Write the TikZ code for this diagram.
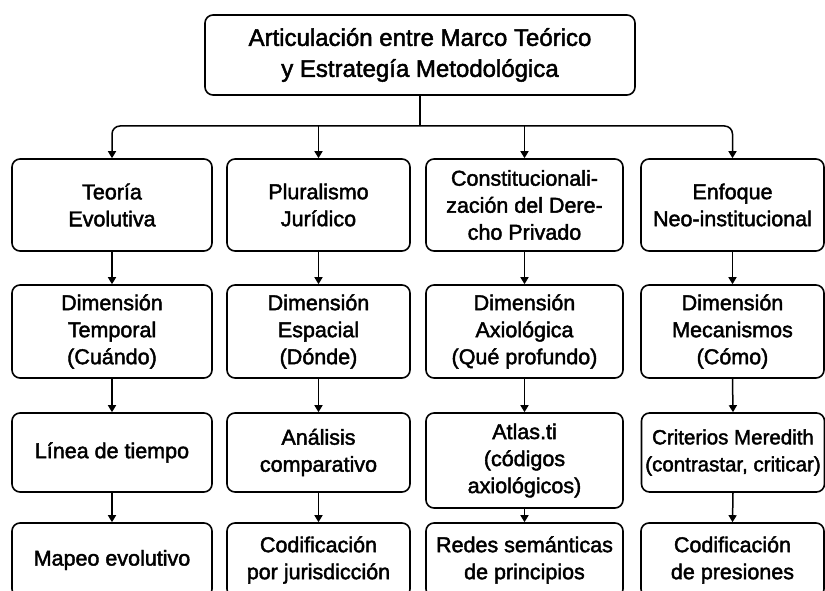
\documentclass[tikz,border=0pt]{standalone}
\usepackage{fontspec}
\setmainfont{Liberation Sans}[FakeBold=2]
\usetikzlibrary{arrows.meta}
\begin{document}
\begin{tikzpicture}[x=1pt,y=-1pt,
  box/.style={draw, line width=1.6pt, rounded corners=8pt, align=center,
    font=\fontsize{21.5}{27}\selectfont, inner sep=0pt},
  link/.style={line width=1.5pt, -{Triangle[length=7pt,width=8pt]}}]
\useasboundingbox (0,0) rectangle (825,591);
\clip (0,0) rectangle (825,591);
\fill[white] (0,0) rectangle (825,591);

% top
\node[box, minimum width=430pt, minimum height=80pt, font=\fontsize{24}{31}\selectfont] (top) at (420,55)
  {Articulación entre Marco Teórico\\y Estrategía Metodológica};

% row 1
\node[box, minimum width=200pt, minimum height=92pt] (t1) at (112,205) {Teoría\\Evolutiva};
\node[box, minimum width=183pt, minimum height=92pt] (t2) at (318.5,205) {Pluralismo\\Jurídico};
\node[box, minimum width=197pt, minimum height=92pt] (t3) at (524.5,205) {Constitucionali-\\zación del Dere-\\cho Privado};
\node[box, minimum width=183pt, minimum height=92pt] (t4) at (732.5,205) {Enfoque\\Neo-institucional};

% row 2
\node[box, minimum width=200pt, minimum height=93pt] (d1) at (112,331.5) {Dimensión\\Temporal\\(Cuándo)};
\node[box, minimum width=183pt, minimum height=93pt] (d2) at (318.5,331.5) {Dimensión\\Espacial\\(Dónde)};
\node[box, minimum width=197pt, minimum height=93pt] (d3) at (524.5,331.5) {Dimensión\\Axiológica\\(Qué profundo)};
\node[box, minimum width=183pt, minimum height=93pt] (d4) at (732.5,331.5) {Dimensión\\Mecanismos\\(Cómo)};

% row 3
\node[box, minimum width=200pt, minimum height=79pt] (m1) at (112,452.5) {Línea de tiempo};
\node[box, minimum width=183pt, minimum height=79pt] (m2) at (318.5,452.5) {Análisis\\comparativo};
\node[box, minimum width=197pt, minimum height=95pt] (m3) at (524.5,460.5) {Atlas.ti\\(códigos\\axiológicos)};
\node[box, minimum width=183pt, minimum height=79pt, font=\fontsize{20.5}{27}\selectfont] (m4) at (733,452.5) {Criterios Meredith\\(contrastar, criticar)};

% row 4
\node[box, minimum width=200pt, minimum height=74pt] (r1) at (112,560) {Mapeo evolutivo};
\node[box, minimum width=183pt, minimum height=74pt] (r2) at (318.5,560) {Codificación\\por jurisdicción};
\node[box, minimum width=197pt, minimum height=74pt] (r3) at (524.5,560) {Redes semánticas\\de principios};
\node[box, minimum width=183pt, minimum height=74pt] (r4) at (732.5,560) {Codificación\\de presiones};

% connectors from top
\coordinate (bus) at (420,126);
\draw[line width=1.5pt] (top.south) -- (bus);
\draw[link, rounded corners=8pt] (bus) -| (t1.north);
\draw[link, rounded corners=8pt] (bus) -| (t4.north);
\draw[link] (t2.north |- bus) -- (t2.north);
\draw[link] (t3.north |- bus) -- (t3.north);

% vertical chains
\foreach \c in {1,2,3,4}{
  \draw[link] (t\c.south) -- (d\c.north);
  \draw[link] (d\c.south) -- (m\c.north);
  \draw[link] (m\c.south) -- (r\c.north);
}
\end{tikzpicture}
\end{document}
